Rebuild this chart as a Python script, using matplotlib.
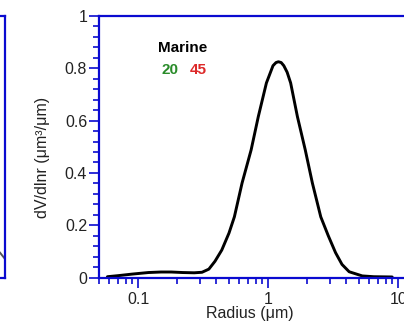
#!/usr/bin/env python3
"""
Distribucion de volumen dV/dlnr frente al radio (aerosol marino).

Salida: out.png
"""

import math

import matplotlib

matplotlib.use("Agg")

import matplotlib.pyplot as plt
from matplotlib.ticker import FixedLocator, LogLocator, MultipleLocator, NullFormatter

plt.rcParams["font.family"] = ["Liberation Sans", "DejaVu Sans"]

# Distribucion de volumen, modo marino (radio en um, dV/dlnr en um^3/um).
radius = [0.058, 0.07, 0.09, 0.12, 0.15, 0.18, 0.22, 0.27, 0.31, 0.35,
          0.39, 0.44, 0.50, 0.55, 0.63, 0.74, 0.84, 0.97, 1.09, 1.15,
          1.2, 1.26, 1.32, 1.40, 1.49, 1.68, 1.93, 2.19, 2.54, 2.9,
          3.3, 3.7, 4.2, 5.3, 6.5, 9.0]
dvdlnr = [0.003, 0.007, 0.013, 0.019, 0.021, 0.021, 0.019, 0.018, 0.020, 0.032,
          0.062, 0.105, 0.17, 0.232, 0.361, 0.488, 0.615, 0.744, 0.81, 0.822,
          0.825, 0.822, 0.81, 0.785, 0.744, 0.615, 0.488, 0.361, 0.232, 0.16,
          0.095, 0.05, 0.022, 0.006, 0.003, 0.002]

# Cola del panel vecino (solo queda a la vista el borde derecho).
prev_radius = [8.5, 9.2, 10.5]
prev_dvdlnr = [0.115, 0.096, 0.06]

x_ticks = [0.1, 1, 10]
x_tick_labels = ["0.1", "1", "10"]
y_ticks = [0, 0.2, 0.4, 0.6, 0.8, 1.0]
y_tick_labels = ["0", "0.2", "0.4", "0.6", "0.8", "1"]

C_AXIS = "#0a0ad0"
C_TEXT = "#222222"
C_GREEN = "#2a8c2a"
C_RED = "#dd2a2a"

W, H = 404, 324

fig = plt.figure(figsize=(W / 100, H / 100), dpi=100)
fig.patch.set_facecolor("white")

ax_bottom = 277.5
ax_top = 16.0
ax_h = (ax_bottom - ax_top) / H
ax_y0 = (H - ax_bottom) / H

# Panel vecino, recortado por el borde izquierdo.
ax0 = fig.add_axes([(4.5 - 300) / W, ax_y0, 300 / W, ax_h])
ax0.plot(prev_radius, prev_dvdlnr, color="#555555", lw=1.4)
ax0.set_xscale("log")
ax0.set_xlim(0.05, 10)
ax0.set_ylim(0, 1)
ax0.set_xticks([])
ax0.set_yticks([])
ax0.xaxis.set_minor_locator(FixedLocator([]))
for sp in ax0.spines.values():
    sp.set_color(C_AXIS)
    sp.set_linewidth(1.6)

# Panel principal; el borde derecho queda fuera de la figura.
x_left, x_right = 0.05, 15
decade_px = 130.0
width_px = decade_px * math.log10(x_right / x_left)
ax = fig.add_axes([99 / W, ax_y0, width_px / W, ax_h])
ax.plot(radius, dvdlnr, color="black", lw=2.1, solid_capstyle="round",
        solid_joinstyle="round")

ax.set_xscale("log")
ax.set_xlim(x_left, x_right)
ax.set_ylim(0, 1)

ax.set_xticks(x_ticks)
ax.set_xticklabels(x_tick_labels)
ax.xaxis.set_minor_locator(LogLocator(base=10, subs=range(2, 10), numticks=20))
ax.xaxis.set_minor_formatter(NullFormatter())
ax.set_yticks(y_ticks)
ax.set_yticklabels(y_tick_labels)
ax.yaxis.set_minor_locator(MultipleLocator(0.04))

ax.tick_params(which="major", direction="out", length=7.5, width=1.2,
               color=C_AXIS, labelsize=11.5, labelcolor=C_TEXT)
ax.tick_params(which="minor", direction="out", length=4, width=1.2, color=C_AXIS)
ax.tick_params(axis="y", which="major", pad=1)
ax.tick_params(axis="x", which="major", pad=3)

for sp in ax.spines.values():
    sp.set_color(C_AXIS)
    sp.set_linewidth(1.6)

ax.set_xlabel("Radius (\u03bcm)", fontsize=11.5, color=C_TEXT)
ax.xaxis.set_label_coords((250 - 99) / width_px, -0.108)
ax.set_ylabel("dV/dlnr (\u03bcm\u00b3/\u03bcm)", fontsize=11.5, color=C_TEXT)
ax.yaxis.set_label_coords((50 - 99) / width_px, 0.461)

# Leyenda de texto del caso.
ax.text((183 - 99) / width_px, 0.878, "Marine", transform=ax.transAxes,
        ha="center", va="center", fontsize=11, fontweight="bold", color="black")
ax.text((170 - 99) / width_px, 0.793, "20", transform=ax.transAxes,
        ha="center", va="center", fontsize=11, fontweight="bold", color=C_GREEN)
ax.text((198 - 99) / width_px, 0.793, "45", transform=ax.transAxes,
        ha="center", va="center", fontsize=11, fontweight="bold", color=C_RED)

fig.savefig("out.png", dpi=100, facecolor="white")
plt.close(fig)
